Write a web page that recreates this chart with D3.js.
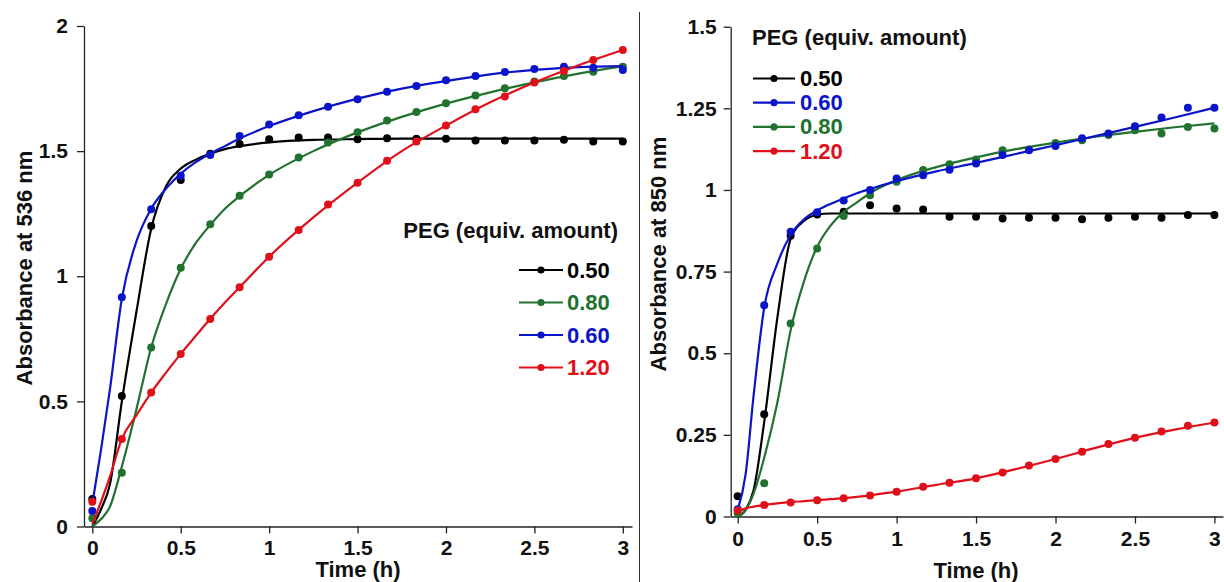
<!DOCTYPE html>
<html>
<head>
<meta charset="utf-8">
<script src="https://cdn.jsdelivr.net/npm/d3@7"></script>
<style>
  html, body { margin: 0; padding: 0; background: #fff; }
  svg { display: block; font-family: "Liberation Sans", Arial, sans-serif; font-weight: bold; }
</style>
</head>
<body>
<svg id="chart" width="1224" height="582"></svg>
<script>
// Sampling times (h) of the measured absorbances
const timeH = [0, 0.167, 0.333, 0.5, 0.667, 0.833, 1, 1.167, 1.333, 1.5, 1.667, 1.833, 2, 2.167, 2.333, 2.5, 2.667, 2.833, 3];
// Times (h) at which the fitted curves are tabulated
const fitTimeH = [0, 0.05, 0.1, 0.167, 0.25, 0.333, 0.417, 0.5, 0.583, 0.667, 0.75, 0.833, 1, 1.25, 1.5, 1.75, 2, 2.25, 2.5, 2.75, 3];

// ---- Absorbance at 536 nm: measured points ----
const a536_050 = [0.11, 0.521, 1.201, 1.385, 1.49, 1.528, 1.547, 1.554, 1.554, 1.547, 1.551, 1.549, 1.549, 1.542, 1.542, 1.542, 1.545, 1.538, 1.538];
const a536_080 = [0.033, 0.215, 0.715, 1.034, 1.208, 1.322, 1.407, 1.475, 1.534, 1.575, 1.622, 1.656, 1.691, 1.722, 1.751, 1.778, 1.800, 1.817, 1.837];
const a536_060 = [0.062, 0.916, 1.268, 1.402, 1.485, 1.560, 1.606, 1.643, 1.677, 1.707, 1.737, 1.760, 1.783, 1.800, 1.816, 1.828, 1.837, 1.833, 1.824];
const a536_120 = [0.099, 0.350, 0.535, 0.689, 0.829, 0.956, 1.078, 1.185, 1.287, 1.374, 1.462, 1.538, 1.602, 1.667, 1.718, 1.774, 1.820, 1.864, 1.904];
// ---- Absorbance at 536 nm: fitted curves ----
const fit536_050 = [0.0, 0.07, 0.17, 0.50, 0.86, 1.19, 1.36, 1.43, 1.465, 1.49, 1.508, 1.52, 1.535, 1.545, 1.548, 1.55, 1.55, 1.55, 1.55, 1.55, 1.55];
const fit536_080 = [0.0, 0.03, 0.08, 0.24, 0.47, 0.715, 0.89, 1.03, 1.13, 1.205, 1.27, 1.32, 1.405, 1.50, 1.575, 1.637, 1.69, 1.735, 1.775, 1.81, 1.84];
const fit536_060 = [0.09, 0.31, 0.55, 0.91, 1.14, 1.27, 1.35, 1.41, 1.455, 1.49, 1.52, 1.55, 1.60, 1.66, 1.71, 1.75, 1.78, 1.807, 1.825, 1.836, 1.84];
const fit536_120 = [0.01, 0.1, 0.2, 0.35, 0.445, 0.535, 0.615, 0.69, 0.76, 0.83, 0.895, 0.956, 1.078, 1.235, 1.374, 1.50, 1.602, 1.695, 1.774, 1.843, 1.904];

// ---- Absorbance at 850 nm: measured points ----
const a850_050 = [0.062, 0.313, 0.860, 0.925, 0.933, 0.953, 0.943, 0.940, 0.918, 0.918, 0.913, 0.915, 0.915, 0.910, 0.915, 0.918, 0.915, 0.923, 0.923];
const a850_060 = [0.022, 0.647, 0.872, 0.932, 0.968, 1.000, 1.035, 1.045, 1.062, 1.081, 1.107, 1.122, 1.135, 1.158, 1.173, 1.195, 1.222, 1.252, 1.252];
const a850_080 = [0.01, 0.102, 0.591, 0.821, 0.920, 0.984, 1.025, 1.061, 1.079, 1.093, 1.122, 1.124, 1.144, 1.152, 1.168, 1.183, 1.173, 1.193, 1.188];
const a850_120 = [0.018, 0.035, 0.043, 0.050, 0.056, 0.064, 0.076, 0.091, 0.103, 0.117, 0.135, 0.156, 0.176, 0.198, 0.222, 0.241, 0.260, 0.278, 0.288];
// ---- Absorbance at 850 nm: fitted curves ----
const fit850_050 = [0.0, 0.02, 0.08, 0.29, 0.61, 0.85, 0.905, 0.924, 0.928, 0.928, 0.928, 0.928, 0.928, 0.928, 0.928, 0.928, 0.928, 0.928, 0.928, 0.928, 0.928];
const fit850_060 = [0.02, 0.13, 0.37, 0.64, 0.775, 0.862, 0.91, 0.937, 0.957, 0.974, 0.99, 1.003, 1.027, 1.057, 1.083, 1.11, 1.137, 1.165, 1.193, 1.222, 1.252];
const fit850_080 = [0.0, 0.02, 0.07, 0.18, 0.35, 0.57, 0.72, 0.826, 0.89, 0.933, 0.962, 0.99, 1.03, 1.07, 1.10, 1.125, 1.145, 1.163, 1.178, 1.192, 1.204];
const fit850_120 = [0.015, 0.025, 0.03, 0.035, 0.04, 0.044, 0.047, 0.05, 0.053, 0.056, 0.06, 0.065, 0.076, 0.097, 0.117, 0.145, 0.176, 0.21, 0.241, 0.266, 0.288];

// Series labels and colours
const pegLabels = ["0.50", "0.60", "0.80", "1.20"];
const pegColors = { "0.50": "#000000", "0.60": "#0a14c8", "0.80": "#22722f", "1.20": "#e0101a" };

// Axis ticks
const timeTicks = [0, 0.5, 1, 1.5, 2, 2.5, 3];
const ticks536 = [0, 0.5, 1, 1.5, 2];
const ticks850 = [0, 0.25, 0.5, 0.75, 1, 1.25, 1.5];

const legendTitle = "PEG (equiv. amount)";

const svg = d3.select("#chart");

function drawPanel(p) {
  const x = d3.scaleLinear().domain(p.xDomain).range([p.left, p.right]);
  const y = d3.scaleLinear().domain(p.yDomain).range([p.bottom, p.top]);
  const g = svg.append("g");

  // axes
  const xAxis = g.append("g")
    .attr("transform", `translate(0,${p.bottom})`)
    .call(d3.axisBottom(x).tickValues(timeTicks).tickFormat(d => String(d))
      .tickSize(7).tickSizeOuter(0).tickPadding(p.xPad));
  const yAxis = g.append("g")
    .attr("transform", `translate(${p.left},0)`)
    .call(d3.axisLeft(y).tickValues(p.yTicks).tickFormat(d => String(d))
      .tickSize(7).tickSizeOuter(0).tickPadding(p.yPad));
  [xAxis, yAxis].forEach(a => {
    a.attr("font-size", 21).attr("font-family", null).attr("font-weight", "bold");
    a.selectAll("path, line").attr("stroke", "#222").attr("stroke-width", 1.3);
    a.selectAll("text").attr("fill", "#111");
  });

  // axis titles
  g.append("text")
    .attr("x", p.xTitleX).attr("y", p.xTitleY)
    .attr("text-anchor", "middle").attr("font-size", 22).attr("fill", "#111")
    .text("Time (h)");
  g.append("text")
    .attr("transform", `translate(${p.yTitleX},${p.yTitleY}) rotate(-90)`)
    .attr("text-anchor", "middle").attr("font-size", 22).attr("fill", "#111")
    .text(p.yTitle);

  // series: fitted curve plus measured points
  const line = d3.line().x(d => x(d[0])).y(d => y(d[1])).curve(d3.curveMonotoneX);
  p.series.forEach(s => {
    const color = pegColors[s.label];
    g.append("path")
      .datum(fitTimeH.map((t, i) => [t, s.fit[i]]))
      .attr("d", line)
      .attr("fill", "none").attr("stroke", color).attr("stroke-width", 2.2)
      .attr("stroke-linejoin", "round");
    g.append("g").selectAll("circle")
      .data(timeH.map((t, i) => [t, s.points[i]]))
      .join("circle")
      .attr("cx", d => x(d[0])).attr("cy", d => y(d[1]))
      .attr("r", 4).attr("fill", color);
  });

  // legend
  const lg = g.append("g");
  lg.append("text")
    .attr("x", p.legend.titleX).attr("y", p.legend.titleY)
    .attr("text-anchor", p.legend.titleAnchor)
    .attr("font-size", 22).attr("fill", "#111")
    .text(legendTitle);
  p.legend.order.forEach((lab, i) => {
    const base = p.legend.firstY + i * p.legend.step;
    const cy = base - 7.5;
    const c = pegColors[lab];
    lg.append("line")
      .attr("x1", p.legend.lineX0).attr("x2", p.legend.lineX1)
      .attr("y1", cy).attr("y2", cy)
      .attr("stroke", c).attr("stroke-width", 2.2);
    lg.append("circle")
      .attr("cx", (p.legend.lineX0 + p.legend.lineX1) / 2).attr("cy", cy)
      .attr("r", 3.6).attr("fill", c);
    lg.append("text")
      .attr("x", p.legend.textX).attr("y", base)
      .attr("font-size", 22).attr("fill", c)
      .text(lab);
  });
}

// Left panel: 536 nm
drawPanel({
  left: 84, right: 632, top: 26, bottom: 526.5,
  xDomain: [-0.047, 3.052], yDomain: [0, 2], yTicks: ticks536,
  xPad: 7, yPad: 9,
  xTitleX: 358, xTitleY: 577,
  yTitle: "Absorbance at 536 nm", yTitleX: 32, yTitleY: 268,
  series: [
    { label: "0.50", points: a536_050, fit: fit536_050 },
    { label: "0.80", points: a536_080, fit: fit536_080 },
    { label: "0.60", points: a536_060, fit: fit536_060 },
    { label: "1.20", points: a536_120, fit: fit536_120 }
  ],
  legend: {
    titleX: 618, titleY: 238, titleAnchor: "end",
    order: ["0.50", "0.80", "0.60", "1.20"],
    firstY: 277.5, step: 32.5,
    lineX0: 519, lineX1: 563, textX: 567
  }
});

// Right panel: 850 nm
drawPanel({
  left: 730.7, right: 1223, top: 26.7, bottom: 516.5,
  xDomain: [-0.044, 3.054], yDomain: [0, 1.5], yTicks: ticks850,
  xPad: 8, yPad: 7,
  xTitleX: 976, xTitleY: 578,
  yTitle: "Absorbance at 850 nm", yTitleX: 666, yTitleY: 254,
  series: [
    { label: "0.50", points: a850_050, fit: fit850_050 },
    { label: "0.80", points: a850_080, fit: fit850_080 },
    { label: "0.60", points: a850_060, fit: fit850_060 },
    { label: "1.20", points: a850_120, fit: fit850_120 }
  ],
  legend: {
    titleX: 752, titleY: 45, titleAnchor: "start",
    order: ["0.50", "0.60", "0.80", "1.20"],
    firstY: 86, step: 24.2,
    lineX0: 753, lineX1: 795, textX: 800
  }
});

// divider between the two panels
svg.append("line")
  .attr("x1", 639.5).attr("x2", 639.5).attr("y1", 12).attr("y2", 582)
  .attr("stroke", "#333").attr("stroke-width", 1);
</script>
</body>
</html>
